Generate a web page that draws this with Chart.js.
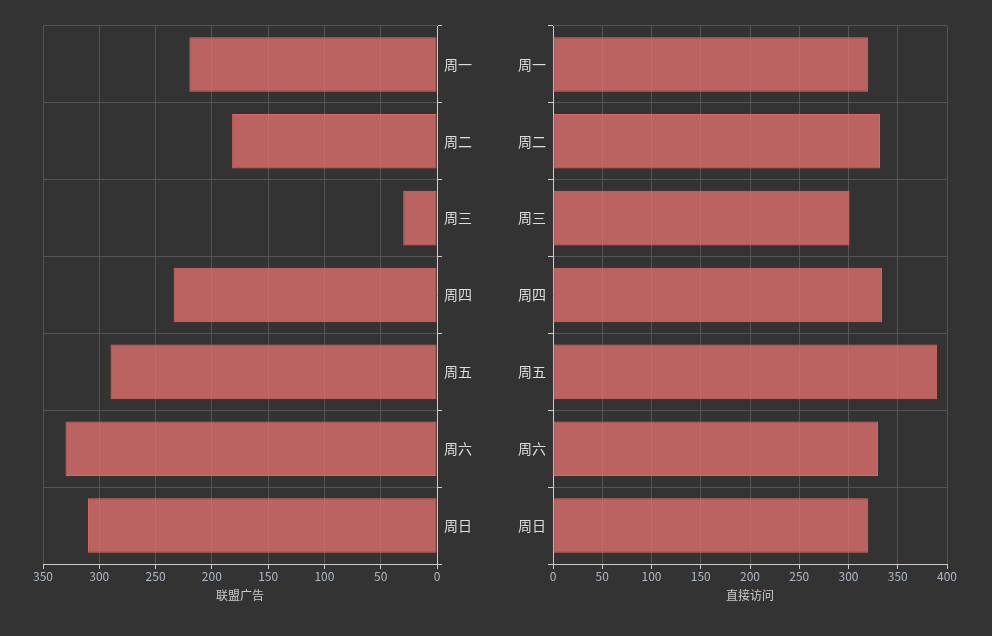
<!DOCTYPE html>
<html lang="zh">
<head>
  <meta charset="UTF-8" />
  <title>联盟广告 / 直接访问</title>
  <script src="https://cdn.jsdelivr.net/npm/chart.js"></script>
  <style>
    html, body { margin: 0; padding: 0; background: #333333; }
    .wrap { position: relative; width: 992px; height: 636px; }
    #leftChart { position: absolute; left: 0; top: 0; }
    #rightChart { position: absolute; left: 496px; top: 0; }
  </style>
</head>
<body>
  <div class="wrap">
    <canvas id="leftChart" width="496" height="636"></canvas>
    <canvas id="rightChart" width="496" height="636"></canvas>
  </div>

  <script>
    const days = ["周一", "周二", "周三", "周四", "周五", "周六", "周日"];
    const adValues = [220, 182, 30, 234, 290, 330, 310];
    const directValues = [320, 332, 301, 334, 390, 330, 320];

    Chart.defaults.font.family = "'Noto Sans CJK SC', 'DejaVu Sans', sans-serif";

    const barFill = "rgba(221, 111, 107, 0.8)";
    const barEdge = "#e2655f";
    const gridColor = "#555555";
    const axisColor = "#cccccc";

    function makeChart(id, label, values, opts) {
      new Chart(document.getElementById(id), {
        type: "bar",
        data: {
          labels: days,
          datasets: [{
            label: label,
            data: values,
            backgroundColor: barFill,
            borderColor: barEdge,
            borderWidth: 1,
            borderSkipped: false,
            barPercentage: 0.71,
            categoryPercentage: 1
          }]
        },
        options: {
          indexAxis: "y",
          responsive: false,
          animation: false,
          layout: { padding: opts.padding },
          plugins: { legend: { display: false }, tooltip: { enabled: false } },
          scales: {
            x: {
              reverse: opts.reverse,
              min: 0,
              max: opts.max,
              ticks: { stepSize: 50, color: "#aeb8c6", font: { size: 12 }, padding: 0 },
              grid: { color: gridColor, tickColor: axisColor, tickLength: 5 },
              border: { color: axisColor },
              title: { display: true, text: label, color: axisColor, font: { size: 12 }, padding: { top: 4, bottom: 6 } },
              afterFit: s => { s.height = 45; }
            },
            y: {
              position: opts.yPos,
              ticks: { color: "#dddddd", font: { size: 14 }, padding: 2 },
              grid: { color: gridColor, tickColor: axisColor, tickLength: 5 },
              border: { color: axisColor },
              afterFit: s => { s.width = opts.yWidth; }
            }
          }
        }
      });
    }

    makeChart("leftChart", "联盟广告", adValues, {
      reverse: true, max: 350, yPos: "right", yWidth: 59,
      padding: { left: 43, right: 0, top: 26, bottom: 27 }
    });
    makeChart("rightChart", "直接访问", directValues, {
      reverse: false, max: 400, yPos: "left", yWidth: 57,
      padding: { left: 0, right: 45, top: 26, bottom: 27 }
    });
  </script>
</body>
</html>
